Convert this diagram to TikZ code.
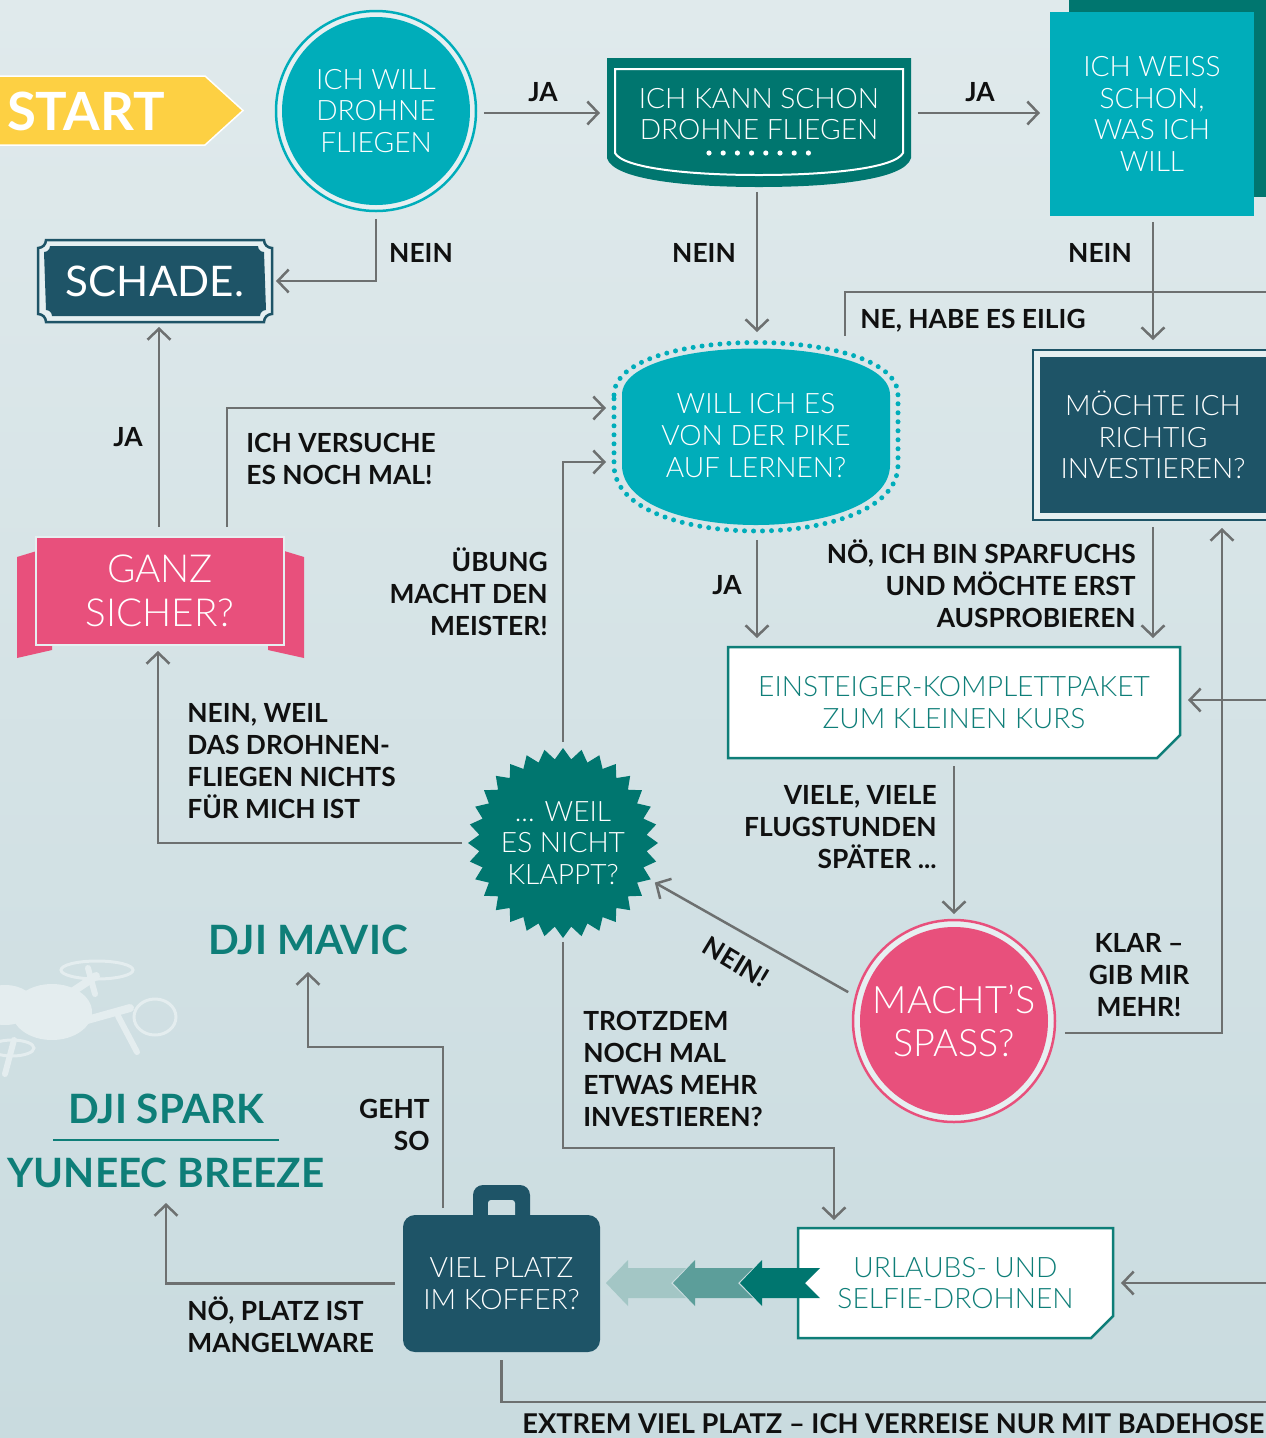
\documentclass[tikz,border=0pt]{standalone}
\usepackage{fontspec}
\setmainfont{Lato}
\newfontfamily\lightf{Lato Light}
\usetikzlibrary{arrows.meta,calc}

\definecolor{cBgTop}{HTML}{E0EAEC}
\definecolor{cBgBot}{HTML}{C9DBDF}
\definecolor{cCyan}{HTML}{00ADBA}
\definecolor{cTealD}{HTML}{00766F}
\definecolor{cNavy}{HTML}{1E5467}
\definecolor{cPink}{HTML}{E8507C}
\definecolor{cSun}{HTML}{FDD043}
\definecolor{cTealT}{HTML}{0E7E78}
\definecolor{cWire}{HTML}{6D7070}
\definecolor{cInk}{HTML}{101010}
\definecolor{cGhost}{HTML}{E4EDEF}
\definecolor{cGap}{HTML}{E6EFF1}
\definecolor{cHole}{HTML}{CCDDE1}
\definecolor{cChevM}{HTML}{5C9E9A}
\definecolor{cChevL}{HTML}{A3C6C5}

\def\pxu{0.02cm}

\tikzset{
  shapebox/.style={rectangle, inner sep=0pt, outer sep=0pt},
  shapernd/.style={circle, inner sep=0pt, outer sep=0pt},
  ntxt/.style={text=white, align=center, font=\lightf\fontsize{16}{18.1}\selectfont},
  ptxt/.style={text=cTealT, align=center, font=\lightf\fontsize{16}{18.1}\selectfont},
  lab/.style={text=cInk, inner sep=0pt, font=\bfseries\fontsize{15}{18.1}\selectfont},
  brand/.style={text=cTealT, inner sep=0pt, font=\bfseries\fontsize{23}{26}\selectfont},
  wireline/.style={draw=cWire, line width=0.05cm},
  arr/.style={wireline, -{Straight Barb[length=0.22cm, width=0.46cm]}},
}

% left-pointing chevron arrow with notched tail
\newcommand\chevron[2]{%
  \fill[#2] (#1,1283) -- ++(22,-23) -- ++(0,8) -- ++(58,0) -- ++(-15,15)
    -- ++(15,15) -- ++(-58,0) -- ++(0,8) -- cycle;}

\begin{document}
\begin{tikzpicture}[x=\pxu, y=-\pxu]
\useasboundingbox (0,0) rectangle (1266,1438);
\clip (0,0) rectangle (1266,1438);
\shade[top color=cBgTop, bottom color=cBgBot] (0,0) rectangle (1266,1438);

% ---------- drone silhouette ----------
\fill[cGhost] (52,1012) ellipse [x radius=40, y radius=28];
\fill[cGhost] (5,1005) ellipse [x radius=30, y radius=20];
\draw[cGhost, line width=0.16cm, line cap=round] (60,1000) -- (96,976);
\draw[cGhost, line width=0.16cm, line cap=round] (80,1022) -- (130,1008);
\draw[cGhost, line width=0.06cm] (97,970) ellipse [x radius=36, y radius=9];
\draw[cGhost, line width=0.06cm] (155,1017) ellipse [x radius=21, y radius=18];
\draw[cGhost, line width=0.06cm] (12,1048) ellipse [x radius=22, y radius=8];
\draw[cGhost, line width=0.12cm, line cap=round] (118,1016) -- (137,1052);
\draw[cGhost, line width=0.12cm, line cap=round] (14,1040) -- (5,1074);
\draw[cGhost, line width=0.12cm, line cap=round] (88,968) -- (95,994);

% ---------- shapes ----------
% start arrow
\fill[cSun, draw=white, line width=0.03cm] (-5,76) -- (205,76) -- (243,110.5) -- (205,145) -- (-5,145) -- cycle;

% round start question
\fill[cGap] (376,111) circle [radius=101];
\draw[cCyan, line width=0.05cm] (376,111) circle [radius=100];
\fill[cCyan] (376,111) circle [radius=94];

% shield
\fill[cTealD] (607,58) -- (911,58) -- (911,158) .. controls (905,180) and (830,187) .. (759,187)
  .. controls (688,187) and (613,180) .. (607,158) -- cycle;
\draw[white, line width=0.04cm] (615,69) -- (903,69) -- (903,153) .. controls (895,168) and (830,175) .. (759,175)
  .. controls (688,175) and (623,168) .. (615,153) -- cycle;
\foreach \i in {0,...,7} \fill[white] (709+\i*14.2,153) circle [radius=2.6];

% square with offset backing
\fill[cTealD] (1069,-5) rectangle (1275,197);
\fill[cCyan] (1050,12) rectangle (1254,216);

% sign with notched corners
\draw[cNavy, line width=0.05cm, fill=cGap] (46,240) -- (264,240) arc [start angle=180, end angle=90, radius=8]
  -- (272,314) arc [start angle=270, end angle=180, radius=8]
  -- (46,322) arc [start angle=0, end angle=-90, radius=8]
  -- (38,248) arc [start angle=90, end angle=0, radius=8] -- cycle;
\fill[cNavy] (52,246) -- (258,246) arc [start angle=180, end angle=90, radius=6]
  -- (266,310) arc [start angle=270, end angle=180, radius=6]
  -- (52,316) arc [start angle=0, end angle=-90, radius=6]
  -- (44,252) arc [start angle=90, end angle=0, radius=6] -- cycle;

% barrel with dotted outline
\fill[cCyan] (622,395) .. controls (622,333) and (890,333) .. (890,395) -- (890,465)
  .. controls (890,545) and (622,545) .. (622,465) -- cycle;
\draw[cCyan, line width=0.1cm, line cap=round, dash pattern=on 0pt off 0.18cm]
  (614,395) .. controls (614,325) and (898,325) .. (898,395) -- (898,465)
  .. controls (898,553) and (614,553) .. (614,465) -- cycle;

% framed dark box
\draw[cNavy, line width=0.05cm, fill=cGap] (1033,350) rectangle (1280,520);
\fill[cNavy] (1040,357) rectangle (1280,513);

% ribbon
\fill[cPink] (17,557) -- (40,550) -- (52,550) -- (52,650) -- (17,658) -- cycle;
\fill[cPink] (304,557) -- (281,550) -- (268,550) -- (268,650) -- (304,658) -- cycle;
\fill[cPink, draw=cGap, line width=0.04cm] (36,537) rectangle (284,645);

% white box with cut corner
\draw[cTealT, line width=0.05cm, fill=white] (728,647) -- (1180,647) -- (1180,735) -- (1157,758) -- (728,758) -- cycle;

% starburst
\fill[cTealD] plot[samples at={0,...,63}, variable=\k]
  ({563+(95-11*mod(\k,2))*cos(\k*5.625)}, {843+(95-11*mod(\k,2))*sin(\k*5.625)}) -- cycle;

% pink round question
\fill[cGap] (954,1021) circle [radius=102];
\draw[cPink, line width=0.05cm] (954,1021) circle [radius=101];
\fill[cPink] (954,1021) circle [radius=94];

% suitcase
\fill[cNavy, rounded corners=0.2cm] (473,1185) rectangle (530,1228);
\fill[cHole, rounded corners=0.06cm] (488,1200) rectangle (515,1222);
\fill[cNavy, rounded corners=0.24cm] (403,1215) rectangle (600,1352);

% holiday box and chevrons
\draw[cTealT, line width=0.05cm, fill=white] (798,1228) -- (1113,1228) -- (1113,1316) -- (1091,1338) -- (798,1338) -- cycle;
\chevron{606}{cChevL}
\chevron{673}{cChevM}
\chevron{740}{cTealD}

% ---------- nodes ----------
\node[inner sep=0pt, text=white, font=\bfseries\fontsize{30}{30}\selectfont] (start) at (86,111) {START};
\node[shapernd, minimum size=4cm, ntxt] (want) at (376,111) {ICH WILL\\DROHNE\\FLIEGEN};
\node[shapebox, minimum width=6.08cm, minimum height=2.24cm, ntxt] (kann) at (759,114) {ICH KANN SCHON\\DROHNE FLIEGEN};
\node[shapebox, minimum width=4.08cm, minimum height=4.08cm, ntxt] (weiss) at (1152,114) {ICH WEISS\\SCHON,\\WAS ICH\\WILL};
\node[shapebox, minimum width=4.68cm, minimum height=1.64cm, text=white, font=\fontsize{24}{24}\selectfont] (schade) at (155,281) {SCHADE.};
\node[shapebox, minimum width=5.68cm, minimum height=3.82cm, ntxt] (pike) at (756,435.5) {WILL ICH ES\\VON DER PIKE\\AUF LERNEN?};
\node[shapebox, minimum width=4.8cm, minimum height=3.4cm, ntxt] (invest) at (1153,435) {MÖCHTE ICH\\RICHTIG\\INVESTIEREN?};
\node[shapebox, minimum width=4.92cm, minimum height=2.16cm, text=white, align=center, font=\lightf\fontsize{22}{25}\selectfont] (ganz) at (160,591) {GANZ\\SICHER?};
\node[shapebox, minimum width=9.04cm, minimum height=2.22cm, ptxt] (paket) at (954,702.5) {EINSTEIGER-KOMPLETTPAKET\\ZUM KLEINEN KURS};
\node[shapernd, minimum size=3.8cm, ntxt] (weil) at (563,843) {... WEIL\\ES NICHT\\KLAPPT?};
\node[shapernd, minimum size=4.04cm, text=white, align=center, font=\lightf\fontsize{21.5}{24.4}\selectfont] (spass) at (954,1021) {MACHT’S\\SPASS?};
\node[shapebox, minimum width=3.94cm, minimum height=2.74cm, ntxt] (koffer) at (501.5,1283.5) {VIEL PLATZ\\IM KOFFER?};
\node[shapebox, minimum width=6.3cm, minimum height=2.2cm, ptxt] (urlaub) at (955.5,1283) {URLAUBS- UND\\SELFIE-DROHNEN};

\node[brand] (mavic) at (308,940) {DJI MAVIC};
\node[brand] (spark) at (166,1109) {DJI SPARK};
\node[brand] (breeze) at (166,1173) {YUNEEC BREEZE};
\draw[cTealT, line width=0.04cm] (53,1140) -- (279,1140);

% off-page ends
\coordinate (eiligin) at (1270,292);
\coordinate (eiligend) at (845,336);
\coordinate (paketin) at (1270,700);
\coordinate (urlaubin) at (1270,1283);
\coordinate (badeout) at (1270,1402);

% ---------- connectors ----------
\draw[arr] ($(want.east)+(8,2)$) -- ($(kann.west)+(-7,-1)$);
\draw[arr] ($(kann.east)+(7,-1)$) -- ($(weiss.west)+(-10,-1)$);
\draw[arr] ($(want.south)+(0,8)$) |- ($(schade.east)+(4,0)$);
\draw[arr] ($(kann.south)+(-2,22)$) -- ($(pike.north)+(1,-8)$);
\draw[arr] ($(weiss.south)+(1,6)$) -- ($(invest.north)+(0,-10)$);
\draw[wireline] (eiligin) -| (eiligend);
\draw[arr] ($(ganz.north)+(-1,-10)$) -- ($(schade.south)+(4,5)$);
\draw[arr] ($(ganz.north)+(67,-10)$) |- ($(pike.west)+(-8,-27.5)$);
\draw[arr] ($(weil.north)+(0,-6)$) |- ($(pike.west)+(-8,26.5)$);
\draw[arr] ($(pike.south)+(1,9)$) -- ($(paket.north)+(-197,-9)$);
\draw[arr] ($(invest.south)+(0,7)$) -- ($(paket.north)+(199,-9)$);
\draw[arr] (paketin) -- ($(paket.east)+(8,-2.5)$);
\draw[arr] ($(paket.south)+(0,8)$) -- ($(spass.north)+(0,-6)$);
\draw[arr] ($(spass.east)+(10,12)$) -| ($(invest.south)+(69,8)$);
\draw[arr, shorten <=0.18cm, shorten >=0.1cm] (spass.166) -- (weil.-23.5);
\draw[arr] ($(weil.west)+(-6,0)$) -| ($(ganz.south)+(-2,6)$);
\draw[arr] ($(weil.south)+(0,4)$) |- ($(urlaub.north)+(-121.5,-80)$) -- ($(urlaub.north)+(-121.5,-8)$);
\draw[arr] (urlaubin) -- ($(urlaub.east)+(8,0)$);
\draw[arr] ($(koffer.north)+(-58.5,-7)$) |- ($(mavic.center)+(0,107)$) -- ($(mavic.center)+(0,32)$);
\draw[arr] ($(koffer.west)+(-8,0)$) -| ($(breeze.center)+(0,30)$);
\draw[wireline] ($(koffer.south)+(0,8)$) |- (badeout);

% ---------- connector labels ----------
\node[lab] (ja1) at (543,92) {JA};
\node[lab] (ja2) at (980,92) {JA};
\node[lab] (nein1) at (421,253) {NEIN};
\node[lab] (nein2) at (704,253) {NEIN};
\node[lab] (nein3) at (1100,253) {NEIN};
\node[lab, anchor=west] (eilig) at (860,321) {NE, HABE ES EILIG};
\node[lab] (ja3) at (128,437) {JA};
\node[lab, anchor=west, align=left] (versuche) at (246,459) {ICH VERSUCHE\\ES NOCH MAL!};
\node[lab, anchor=east, align=right] (uebung) at (548,592) {ÜBUNG\\MACHT DEN\\MEISTER!};
\node[lab] (ja4) at (727,585) {JA};
\node[lab, anchor=east, align=right] (sparfuchs) at (1136,584) {NÖ, ICH BIN SPARFUCHS\\UND MÖCHTE ERST\\AUSPROBIEREN};
\node[lab, anchor=west, align=left] (nichts) at (187,761) {NEIN, WEIL\\DAS DROHNEN-\\FLIEGEN NICHTS\\FÜR MICH IST};
\node[lab, anchor=east, align=right] (flug) at (937,827) {VIELE, VIELE\\FLUGSTUNDEN\\SPÄTER ...};
\node[lab, align=center] (klar) at (1139,975) {KLAR –\\GIB MIR\\MEHR!};
\node[lab, rotate=-31] (neinx) at (736,962) {NEIN!};
\node[lab, anchor=west, align=left] (trotzdem) at (583,1069) {TROTZDEM\\NOCH MAL\\ETWAS MEHR\\INVESTIEREN?};
\node[lab, anchor=east, align=right] (geht) at (430,1125) {GEHT\\SO};
\node[lab, anchor=west, align=left] (mangel) at (187,1325) {NÖ, PLATZ IST\\MANGELWARE};
\node[lab, anchor=west, font=\bfseries\fontsize{15.5}{18.1}\selectfont] (bade) at (522,1424) {EXTREM VIEL PLATZ – ICH VERREISE NUR MIT BADEHOSE};
\end{tikzpicture}
\end{document}
